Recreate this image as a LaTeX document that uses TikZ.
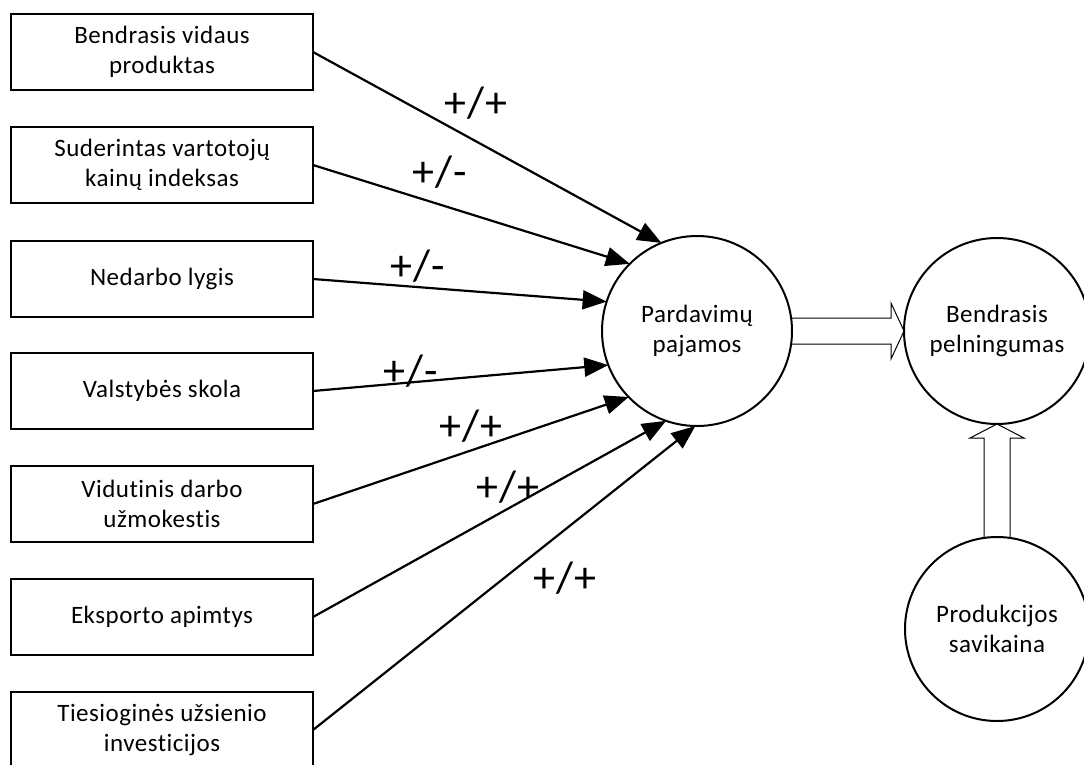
\documentclass[tikz,border=0pt]{standalone}
\usepackage{fontspec}
\setmainfont{Carlito}[LetterSpace=2,Ligatures={NoCommon}]
\usetikzlibrary{arrows.meta,calc}
\begin{document}
\begin{tikzpicture}[x=1pt,y=-1pt,
  box/.style={draw,line width=2pt,minimum width=302pt,minimum height=76pt,align=center,inner sep=0pt,outer sep=0pt,font=\fontsize{25}{29.5}\selectfont},
  circ/.style={draw,circle,line width=2pt,align=center,inner sep=0pt,outer sep=0pt,font=\fontsize{25}{30}\selectfont},
  conn/.style={line width=2.2pt,-{Triangle[length=24pt,width=19pt]}},
  sign/.style={font=\fontsize{44}{44}\selectfont,inner sep=0pt},
  hollow/.style={line width=1pt}]
\useasboundingbox (0,0) rectangle (1084,764);

\node[box] (b1) at (162,52)  {Bendrasis vidaus\\produktas};
\node[box] (b2) at (162,165) {Suderintas vartotojų\\kainų indeksas};
\node[box] (b3) at (162,279) {Nedarbo lygis};
\node[box] (b4) at (162,391) {Valstybės skola};
\node[box] (b5) at (162,504) {Vidutinis darbo\\užmokestis};
\node[box] (b6) at (162,617) {Eksporto apimtys};
\node[box] (b7) at (162,730) {Tiesioginės užsienio\\investicijos};

\node[circ,minimum size=190pt] (pp) at (697,331) {Pardavimų\\pajamos};
\node[circ,minimum size=186pt] (bp) at (997,331) {Bendrasis\\pelningumas};
\node[circ,minimum size=184pt] (ps) at (997,629) {Produkcijos\\savikaina};

\draw[conn] (b1.east) -- (pp.112.6);
\draw[conn] (b2.east) -- (pp.135.4);
\draw[conn] (b3.east) -- (pp.162.6);
\draw[conn] (b4.east) -- (pp.201);
\draw[conn] (b5.east) -- (pp.224.6);
\draw[conn] (b6.east) -- (pp.251);
\draw[conn] (b7.east) -- (pp.269);

\node[sign] (s1) at (476,103) {+/+};
\node[sign] (s2) at (440,172) {+/-};
\node[sign] (s3) at (418,266) {+/-};
\node[sign] (s4) at (411,371) {+/-};
\node[sign] (s5) at (471,426) {+/+};
\node[sign] (s6) at (508,487) {+/+};
\node[sign] (s7) at (565,578) {+/+};

\draw[hollow] ($(pp.center)+(94,-13)$) -- ($(bp.west)+(-13,-13)$) -- ($(bp.west)+(-13,-28)$) -- (bp.west) -- ($(bp.west)+(-13,28)$) -- ($(bp.west)+(-13,13)$) -- ($(pp.center)+(94,13)$);
\draw[hollow] ($(ps.north)+(-13,1)$) -- ($(bp.south)+(-13,14)$) -- ($(bp.south)+(-27,14)$) -- (bp.south) -- ($(bp.south)+(27,14)$) -- ($(bp.south)+(13,14)$) -- ($(ps.north)+(13,1)$);
\end{tikzpicture}
\end{document}
